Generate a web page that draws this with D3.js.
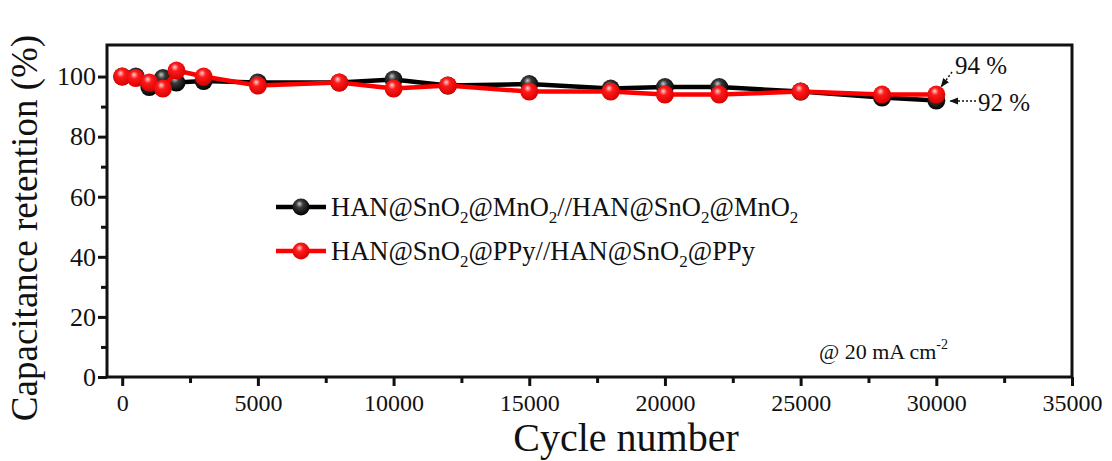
<!DOCTYPE html>
<html>
<head>
<meta charset="utf-8">
<script src="https://cdn.jsdelivr.net/npm/d3@7"></script>
<style>
  body { margin: 0; background: #fff; }
  svg text { font-family: "Liberation Serif", "Times New Roman", serif; fill: #111; }
</style>
</head>
<body>
<svg id="chart" width="1112" height="461"></svg>
<script>
var cycles = [0, 500, 1000, 1500, 2000, 3000, 5000, 8000, 10000, 12000, 15000, 18000, 20000, 22000, 25000, 28000, 30000];
var mno2_values = [100, 100, 96.5, 99.5, 98, 98.5, 98, 98, 99, 97, 97.5, 96, 96.5, 96.5, 95, 93, 92];
var ppy_values = [100, 99.5, 98, 96, 102, 100, 97, 98, 96, 97, 95, 95, 94, 94, 95, 94, 94];
var series_names = ["mno2", "ppy"];
var x_ticks = [0, 5000, 10000, 15000, 20000, 25000, 30000, 35000];
var y_ticks = [0, 20, 40, 60, 80, 100];

var margin = {left: 107, right: 40, top: 45, bottom: 84};
var width = 1112, height = 461;

var svg = d3.select("svg#chart");
var x = d3.scaleLinear().domain([-560, 35000]).range([margin.left, width - margin.right]);
var y = d3.scaleLinear().domain([0, 110.5]).range([height - margin.bottom, margin.top]);

/* gradients for the shiny balls */
var defs = svg.append("defs");
function ball_gradient(id, hi, mid, dark) {
    var g = defs.append("radialGradient").attr("id", id)
        .attr("cx", "45%").attr("cy", "40%").attr("r", "60%")
        .attr("fx", "40%").attr("fy", "30%");
    g.append("stop").attr("offset", "0%").attr("stop-color", hi);
    g.append("stop").attr("offset", "35%").attr("stop-color", mid);
    g.append("stop").attr("offset", "100%").attr("stop-color", dark);
}
ball_gradient("ball-mno2", "#c8c8c8", "#3a3a3a", "#000");
ball_gradient("ball-ppy", "#ffd6d6", "#ff1a1a", "#d90000");

defs.append("marker").attr("id", "arrow").attr("viewBox", "0 0 10 10")
    .attr("refX", 9).attr("refY", 5).attr("markerWidth", 9).attr("markerHeight", 9)
    .attr("markerUnits", "userSpaceOnUse").attr("orient", "auto")
    .append("path").attr("d", "M0,1 L10,5 L0,9 Z").attr("fill", "#111");

/* frame */
svg.append("rect").attr("x", x.range()[0]).attr("y", y.range()[1])
    .attr("width", x.range()[1] - x.range()[0]).attr("height", y.range()[0] - y.range()[1])
    .attr("fill", "none").attr("stroke", "#111").attr("stroke-width", 3);

/* axes */
svg.append("g").attr("class", "xaxis").attr("transform", "translate(0," + y(0) + ")")
    .call(d3.axisBottom(x).tickValues(x_ticks).tickFormat(d3.format("d")).tickSize(9).tickPadding(8))
    .attr("font-size", 24).attr("font-family", "Liberation Serif");
svg.append("g").attr("transform", "translate(0," + y(0) + ")")
    .call(d3.axisBottom(x).tickValues(d3.range(2500, 35000, 5000)).tickFormat("").tickSize(6));
svg.append("g").attr("class", "yaxis").attr("transform", "translate(" + x.range()[0] + ",0)")
    .call(d3.axisLeft(y).tickValues(y_ticks).tickSize(9).tickPadding(2))
    .attr("font-size", 26).attr("font-family", "Liberation Serif");
svg.append("g").attr("transform", "translate(" + x.range()[0] + ",0)")
    .call(d3.axisLeft(y).tickValues(d3.range(10, 110, 20)).tickFormat("").tickSize(6));
svg.selectAll(".domain").remove();
svg.selectAll(".tick line").attr("stroke", "#111").attr("stroke-width", 3);
svg.selectAll(".xaxis .tick text").style("font-size", "24px");
svg.selectAll(".yaxis .tick text").style("font-size", "26px");
svg.selectAll(".tick text").attr("fill", "#111");

/* lines and balls */
var data = {
    mno2: cycles.map(function (c, i) { return [c, mno2_values[i]]; }),
    ppy: cycles.map(function (c, i) { return [c, ppy_values[i]]; })
};
var colors = {mno2: "#000", ppy: "#ff0000"};
var line = d3.line().x(function (d) { return x(d[0]); }).y(function (d) { return y(d[1]); });

series_names.forEach(function (name) {
    svg.append("path").datum(data[name]).attr("d", line)
        .attr("fill", "none").attr("stroke", colors[name]).attr("stroke-width", 4.5)
        .attr("stroke-linejoin", "round");
    svg.selectAll("circle." + name).data(data[name]).enter().append("circle")
        .attr("class", name).attr("cx", function (d) { return x(d[0]); })
        .attr("cy", function (d) { return y(d[1]); }).attr("r", 9)
        .attr("fill", "url(#ball-" + name + ")");
});

/* legend */
var legend_rows = [
    {name: "mno2", parts: [["HAN@SnO", 0], ["2", 1], ["@MnO", 0], ["2", 1], ["//HAN@SnO", 0], ["2", 1], ["@MnO", 0], ["2", 1]]},
    {name: "ppy", parts: [["HAN@SnO", 0], ["2", 1], ["@PPy//HAN@SnO", 0], ["2", 1], ["@PPy", 0]]}
];
legend_rows.forEach(function (row, i) {
    var ly = 207 + i * 44;
    svg.append("line").attr("x1", 276).attr("x2", 326).attr("y1", ly).attr("y2", ly)
        .attr("stroke", colors[row.name]).attr("stroke-width", 4.5);
    svg.append("circle").attr("cx", 301).attr("cy", ly).attr("r", 8.5)
        .attr("fill", "url(#ball-" + row.name + ")");
    var t = svg.append("text").attr("x", 331).attr("y", ly + 9).style("font-size", "26.5px");
    row.parts.forEach(function (p, j) {
        var ts = t.append("tspan").text(p[0]);
        if (p[1]) ts.attr("dy", 7).style("font-size", "17px");
        else if (j > 0) ts.attr("dy", -7);
    });
});

/* condition label */
var cond = svg.append("text").attr("x", 948).attr("y", 359).attr("text-anchor", "end")
    .style("font-size", "22px");
cond.append("tspan").text("@ 20 mA cm");
cond.append("tspan").text("-2").attr("dy", -10).style("font-size", "14px");

/* end annotations */
var last = cycles.length - 1;
svg.append("line").attr("x1", 952).attr("y1", 72)
    .attr("x2", x(cycles[last]) + 5).attr("y2", y(ppy_values[last]) - 8)
    .attr("stroke", "#111").attr("stroke-width", 1.5).attr("stroke-dasharray", "2,2")
    .attr("marker-end", "url(#arrow)");
svg.append("text").attr("x", 955).attr("y", 74).style("font-size", "25px").text("94 %");
svg.append("line").attr("x1", 976).attr("y1", 101)
    .attr("x2", x(cycles[last]) + 14).attr("y2", 101)
    .attr("stroke", "#111").attr("stroke-width", 1.5).attr("stroke-dasharray", "2,2")
    .attr("marker-end", "url(#arrow)");
svg.append("text").attr("x", 978).attr("y", 111).style("font-size", "25px").text("92 %");

/* axis titles */
svg.append("text").attr("x", 626).attr("y", 451)
    .attr("text-anchor", "middle").style("font-size", "40px").text("Cycle number");
svg.append("text").attr("transform", "translate(37," + 228 + ") rotate(-90)")
    .attr("text-anchor", "middle").style("font-size", "37px").text("Capacitance retention (%)");
</script>
</body>
</html>
